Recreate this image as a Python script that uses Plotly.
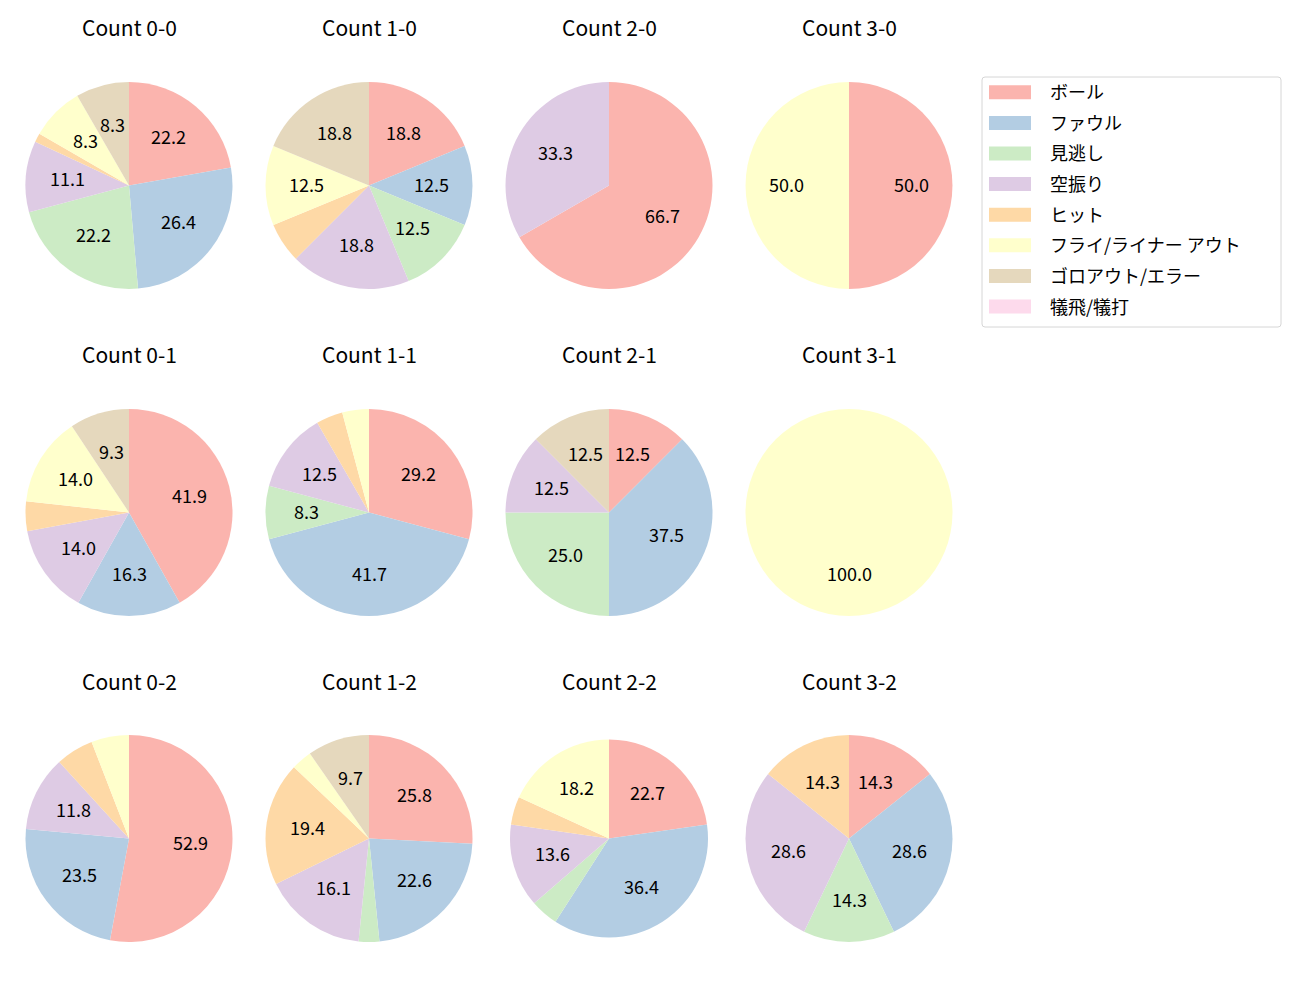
import math
import plotly.graph_objects as go

# ---------------- data ----------------
categories = ["ボール", "ファウル", "見逃し", "空振り", "ヒット",
              "フライ/ライナー アウト", "ゴロアウト/エラー", "犠飛/犠打"]
colors = ["#fbb4ae", "#b3cde3", "#ccebc5", "#decbe4", "#fed9a6",
          "#ffffcc", "#e5d8bd", "#fddaec"]

count_titles = ["Count 0-0", "Count 1-0", "Count 2-0", "Count 3-0",
                "Count 0-1", "Count 1-1", "Count 2-1", "Count 3-1",
                "Count 0-2", "Count 1-2", "Count 2-2", "Count 3-2"]

v_0_0 = [16, 19, 16, 8, 1, 6, 6, 0]
v_1_0 = [3, 2, 2, 3, 1, 2, 3, 0]
v_2_0 = [2, 0, 0, 1, 0, 0, 0, 0]
v_3_0 = [1, 0, 0, 0, 0, 1, 0, 0]
v_0_1 = [18, 7, 0, 6, 2, 6, 4, 0]
v_1_1 = [7, 10, 2, 3, 1, 1, 0, 0]
v_2_1 = [1, 3, 2, 1, 0, 0, 1, 0]
v_3_1 = [0, 0, 0, 0, 0, 1, 0, 0]
v_0_2 = [9, 4, 0, 2, 1, 1, 0, 0]
v_1_2 = [8, 7, 1, 5, 6, 1, 3, 0]
v_2_2 = [5, 8, 1, 3, 1, 4, 0, 0]
v_3_2 = [1, 2, 1, 2, 1, 0, 0, 0]

pie_values = [v_0_0, v_1_0, v_2_0, v_3_0,
              v_0_1, v_1_1, v_2_1, v_3_1,
              v_0_2, v_1_2, v_2_2, v_3_2]

# ---------------- layout geometry (pixels) ----------------
W, H = 1300, 1000
col_centers = [129, 369, 609, 849]
row_centers = [185.5, 512.5, 838.5]
title_y = [28.5, 355.5, 682.5]
radii = [103.5] * 12
radii[10] = 99
label_threshold = 7.0
FONT = "Noto Sans CJK JP"
TITLE_SIZE = 21
LABEL_SIZE = 18
LEGEND_SIZE = 18


def px(x):
    return x / W


def py(y):
    return 1 - y / H


fig = go.Figure()
annotations = []

for i, vals in enumerate(pie_values):
    r_i, c_i = divmod(i, 4)
    xc, yc = col_centers[c_i], row_centers[r_i]
    r = radii[i]
    fig.add_trace(go.Pie(
        values=vals,
        labels=categories,
        marker=dict(colors=colors, line=dict(width=0)),
        sort=False,
        direction="clockwise",
        rotation=0,
        textinfo="none",
        hoverinfo="label+percent",
        showlegend=False,
        domain=dict(x=[px(xc - r), px(xc + r)], y=[py(yc + r), py(yc - r)]),
    ))
    annotations.append(dict(
        x=px(xc), y=py(title_y[r_i]), xref="paper", yref="paper",
        text=count_titles[i], showarrow=False, xanchor="center", yanchor="middle",
        yshift=1.5,
        font=dict(family=FONT, size=TITLE_SIZE, color="#000000"),
    ))
    total = sum(vals)
    cum = 0
    for v in vals:
        pct = 100.0 * v / total
        if v > 0 and pct >= label_threshold:
            theta = 2 * math.pi * (cum + v / 2) / total
            lx = xc + 0.6 * r * math.sin(theta)
            ly = yc - 0.6 * r * math.cos(theta)
            annotations.append(dict(
                x=px(lx), y=py(ly), xref="paper", yref="paper",
                text=f"{pct:.1f}", showarrow=False,
                xanchor="center", yanchor="middle", yshift=2,
                font=dict(family=FONT, size=LABEL_SIZE, color="#000000"),
            ))
        cum += v

# ---------------- legend (drawn manually) ----------------
shapes = []
lx0, ly0, lx1, ly1 = 982, 77, 1281, 327
rad = 3
path = (f"M {px(lx0 + rad)},{py(ly0)} L {px(lx1 - rad)},{py(ly0)} "
        f"Q {px(lx1)},{py(ly0)} {px(lx1)},{py(ly0 + rad)} "
        f"L {px(lx1)},{py(ly1 - rad)} Q {px(lx1)},{py(ly1)} {px(lx1 - rad)},{py(ly1)} "
        f"L {px(lx0 + rad)},{py(ly1)} Q {px(lx0)},{py(ly1)} {px(lx0)},{py(ly1 - rad)} "
        f"L {px(lx0)},{py(ly0 + rad)} Q {px(lx0)},{py(ly0)} {px(lx0 + rad)},{py(ly0)} Z")
shapes.append(dict(type="path", path=path, xref="paper", yref="paper",
                   line=dict(color="#d6d6d6", width=1), fillcolor="rgba(255,255,255,0.8)"))

row0, row_step = 92.3, 30.6
for k, (cat, col) in enumerate(zip(categories, colors)):
    yc = row0 + k * row_step
    shapes.append(dict(type="rect", xref="paper", yref="paper",
                       x0=px(989), x1=px(1031), y0=py(yc - 7), y1=py(yc + 7),
                       line=dict(width=0), fillcolor=col))
    annotations.append(dict(
        x=px(1048), y=py(yc), xref="paper", yref="paper",
        text=cat, showarrow=False, xanchor="left", yanchor="middle", yshift=1,
        font=dict(family=FONT, size=LEGEND_SIZE, color="#000000"),
    ))

fig.update_layout(
    width=W, height=H,
    margin=dict(l=0, r=0, t=0, b=0),
    paper_bgcolor="white", plot_bgcolor="white",
    annotations=annotations, shapes=shapes,
    font=dict(family=FONT),
)

fig.write_html("out.html")
